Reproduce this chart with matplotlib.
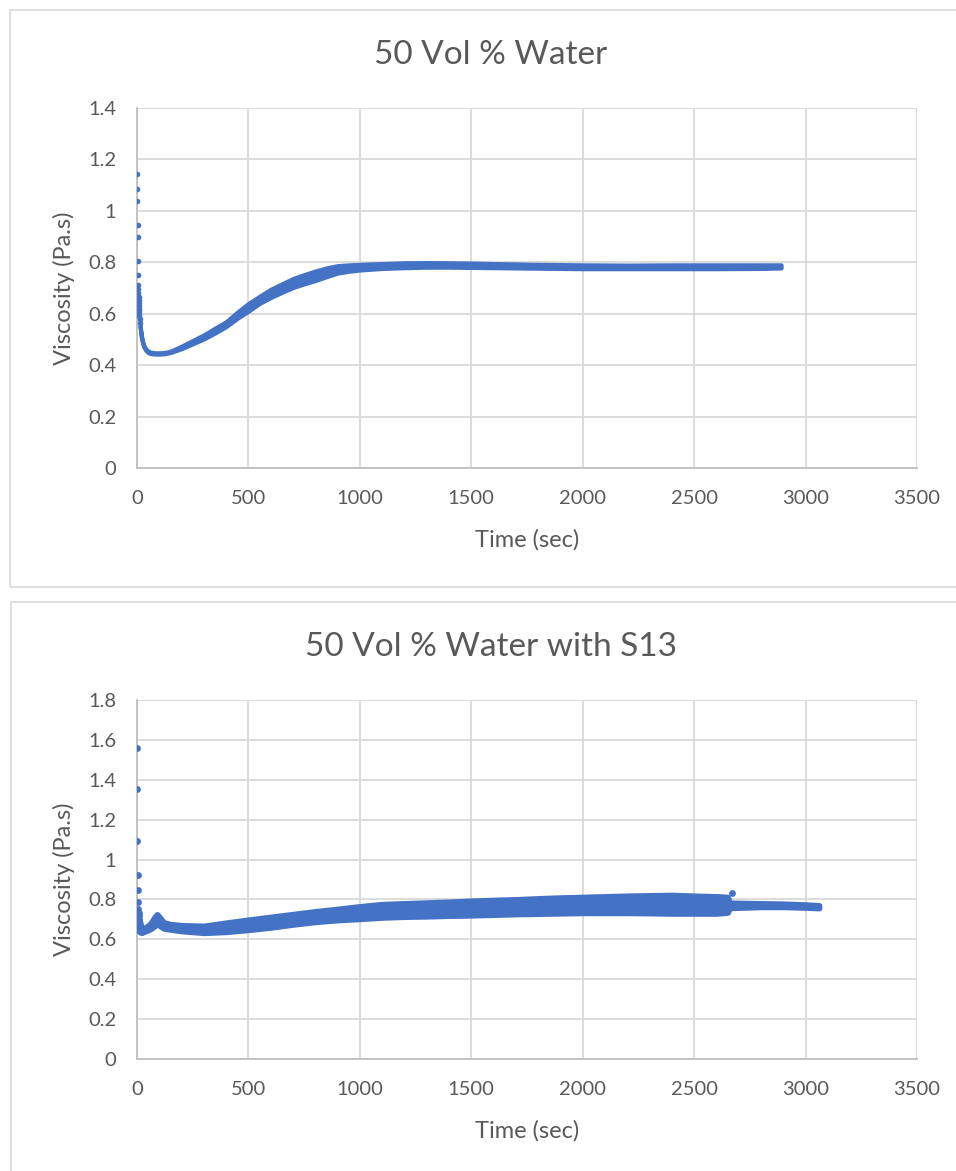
import matplotlib
matplotlib.use("Agg")
import matplotlib.pyplot as plt
from matplotlib.patches import Rectangle
from matplotlib.ticker import FuncFormatter

plt.rcParams["font.family"] = ["Lato", "DejaVu Sans"]

BLUE = "#4472C4"
TEXT = "#595959"
GRID = "#D9D9D9"
AXIS = "#BFBFBF"

# ---- chart 1: 50 Vol % Water ----
water_start_t = [0, 1, 2, 3, 3.5, 4, 5, 5, 6, 6, 7, 7, 8, 8, 9, 9, 10, 11, 12, 13]
water_start_v = [1.144, 1.084, 1.04, 0.944, 0.90, 0.804, 0.751, 0.712, 0.695, 0.68,
                 0.665, 0.655, 0.64, 0.63, 0.62, 0.61, 0.60, 0.59, 0.58, 0.565]

water_t = [14, 20, 25, 30, 40, 50, 60, 80, 100, 120, 140, 160, 200, 250, 300, 350,
           400, 450, 500, 550, 600, 650, 700, 750, 800, 850, 900, 950, 1000, 1100,
           1200, 1300, 1400, 1500, 1600, 1800, 2000, 2200, 2400, 2600, 2800, 2890]
water_lo = [0.548, 0.505, 0.486, 0.472, 0.457, 0.449, 0.445, 0.443, 0.443, 0.444,
            0.447, 0.452, 0.464, 0.483, 0.502, 0.525, 0.550, 0.582, 0.610, 0.640,
            0.663, 0.683, 0.702, 0.716, 0.729, 0.744, 0.758, 0.765, 0.770, 0.776,
            0.779, 0.781, 0.781, 0.780, 0.779, 0.777, 0.775, 0.775, 0.775, 0.775,
            0.776, 0.778]
water_hi = [0.555, 0.513, 0.493, 0.478, 0.463, 0.455, 0.451, 0.448, 0.448, 0.449,
            0.452, 0.458, 0.474, 0.496, 0.518, 0.544, 0.569, 0.606, 0.640, 0.668,
            0.695, 0.716, 0.737, 0.752, 0.766, 0.778, 0.787, 0.790, 0.792, 0.795,
            0.798, 0.799, 0.798, 0.797, 0.795, 0.792, 0.790, 0.789, 0.790, 0.790,
            0.790, 0.790]

# ---- chart 2: 50 Vol % Water with S13 ----
s13_start_t = [0, 1, 2, 3, 4, 5, 6, 7, 8]
s13_start_v = [1.558, 1.354, 1.095, 0.923, 0.848, 0.789, 0.751, 0.73, 0.715]

s13_t = [9, 20, 40, 60, 80, 90, 100, 120, 150, 200, 300, 400, 500, 600, 700, 800,
         900, 1000, 1100, 1200, 1300, 1400, 1500, 1600, 1700, 1800, 1900, 2000,
         2100, 2200, 2300, 2400, 2500, 2600, 2650, 2660, 2800, 2900, 3000, 3060]
s13_lo = [0.640, 0.633, 0.642, 0.652, 0.668, 0.680, 0.670, 0.655, 0.650, 0.642,
          0.633, 0.638, 0.648, 0.660, 0.675, 0.688, 0.697, 0.703, 0.710, 0.714,
          0.716, 0.719, 0.721, 0.724, 0.727, 0.729, 0.731, 0.733, 0.733, 0.733,
          0.732, 0.730, 0.730, 0.730, 0.735, 0.758, 0.763, 0.763, 0.760, 0.757]
s13_hi = [0.705, 0.655, 0.660, 0.678, 0.712, 0.725, 0.712, 0.684, 0.676, 0.670,
          0.667, 0.683, 0.698, 0.712, 0.726, 0.740, 0.752, 0.765, 0.776, 0.780,
          0.784, 0.788, 0.793, 0.797, 0.800, 0.805, 0.809, 0.812, 0.815, 0.818,
          0.820, 0.822, 0.818, 0.815, 0.812, 0.783, 0.780, 0.778, 0.774, 0.770]
s13_outlier_t = [2669]
s13_outlier_v = [0.834]

x_ticks = [0, 500, 1000, 1500, 2000, 2500, 3000, 3500]
y_ticks_top = [0, 0.2, 0.4, 0.6, 0.8, 1.0, 1.2, 1.4]
y_ticks_bottom = [0, 0.2, 0.4, 0.6, 0.8, 1.0, 1.2, 1.4, 1.6, 1.8]

W, H = 956, 1171
fig = plt.figure(figsize=(W / 100, H / 100), dpi=100)


def px_box(left, top, right, bottom):
    return [left / W, 1 - bottom / H, (right - left) / W, (bottom - top) / H]


def style_axes(ax, yticks):
    ax.set_xlim(0, 3500)
    ax.set_ylim(0, yticks[-1])
    ax.set_xticks(x_ticks)
    ax.set_yticks(yticks)
    ax.yaxis.set_major_formatter(FuncFormatter(lambda v, p: f"{v:g}"))
    ax.grid(True, color=GRID, lw=1.3)
    ax.set_axisbelow(True)
    for s in ("top", "right"):
        ax.spines[s].set_visible(False)
    for s in ("left", "bottom"):
        ax.spines[s].set_color(AXIS)
        ax.spines[s].set_linewidth(1.3)
    ax.tick_params(length=0, labelsize=14.5, colors=TEXT)
    ax.tick_params(axis="x", pad=16)
    ax.tick_params(axis="y", pad=15)
    ax.set_xlabel("Time (sec)", fontsize=17, color=TEXT, labelpad=16)
    ax.set_ylabel("Viscosity (Pa.s)", fontsize=17, color=TEXT, labelpad=9)


# panel frames
fig.patches.append(Rectangle((10 / W, 1 - 587 / H), 980 / W, 577 / H,
                             transform=fig.transFigure, fill=False,
                             edgecolor=GRID, lw=1.2))
fig.patches.append(Rectangle((11 / W, 1 - 1190 / H), 980 / W, 588 / H,
                             transform=fig.transFigure, fill=False,
                             edgecolor=GRID, lw=1.2))

ax1 = fig.add_axes(px_box(137, 108, 917, 468))
style_axes(ax1, y_ticks_top)
ax1.fill_between(water_t, water_lo, water_hi, color=BLUE, edgecolor=BLUE,
                 lw=3.0, joinstyle="round", zorder=3)
ax1.scatter(water_start_t, water_start_v, s=16, color=BLUE, lw=0, zorder=4)
fig.text(491 / W, 1 - 55 / H, "50 Vol % Water", ha="center", va="center",
         fontsize=24, color=TEXT)

ax2 = fig.add_axes(px_box(137, 700, 917, 1059))
style_axes(ax2, y_ticks_bottom)
ax2.fill_between(s13_t, s13_lo, s13_hi, color=BLUE, edgecolor=BLUE,
                 lw=4.2, joinstyle="round", zorder=3)
ax2.scatter(s13_start_t, s13_start_v, s=24, color=BLUE, lw=0, zorder=4)
ax2.scatter(s13_outlier_t, s13_outlier_v, s=24, color=BLUE, lw=0, zorder=4)
fig.text(491 / W, 1 - 647 / H, "50 Vol % Water with S13", ha="center",
         va="center", fontsize=24, color=TEXT)

fig.savefig("out.png", dpi=100)
